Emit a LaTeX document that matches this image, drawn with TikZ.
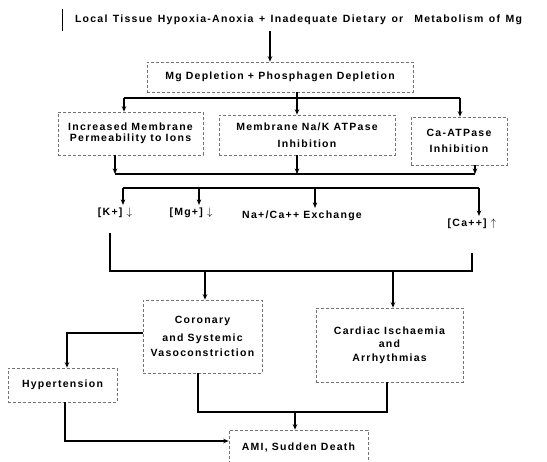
\documentclass[tikz,border=0pt]{standalone}
\usepackage{fontspec}
\setmainfont{Liberation Sans}[LetterSpace=12]
\usetikzlibrary{arrows.meta,calc}
\begin{document}
\begin{tikzpicture}[x=1pt,y=-1pt,
  every node/.style={font=\fontsize{10.5}{11.5}\selectfont\bfseries, inner sep=0pt},
  box/.style={draw=black!55, dash pattern=on 3pt off 2pt, line width=0.6pt, align=center},
  conn/.style={line width=1.6pt, line cap=butt, line join=miter},
  arr/.style={conn, -{Stealth[length=5.5pt,width=4.5pt]}},
  lbl/.style={align=center, inner ysep=3pt}]
\useasboundingbox (0,0) rectangle (547,462);
% nodes
\node[inner xsep=12pt, inner ysep=6pt] (top) at (298.5,20) {\makebox[447pt][s]{Local Tissue Hypoxia-Anoxia + Inadequate Dietary or \ Metabolism of Mg}};
\draw[line width=0.9pt] (top.north west) -- (top.south west);
\node[box, minimum width=266pt, minimum height=30pt] (mg) at (280,77) {Mg Depletion + Phosphagen Depletion};
\node[box, minimum width=145pt, minimum height=43pt] (inc) at (130.5,133.5) {Increased Membrane\\Permeability to Ions};
\node[box, minimum width=176pt, minimum height=40pt] (nak) at (307,135) {Membrane Na/K ATPase\\[5pt]Inhibition};
\node[box, minimum width=96pt, minimum height=48pt] (ca) at (459,141) {Ca-ATPase\\[4pt]Inhibition};
\node[lbl] (lk) at (115,213) {[K+] $\downarrow$};
\node[lbl] (lmg) at (191,213) {[Mg+] $\downarrow$};
\node[lbl] (lna) at (302,216) {Na+/Ca++ Exchange};
\node[lbl] (lca) at (472,224) {[Ca++] $\uparrow$};
\node[box, minimum width=119pt, minimum height=73pt] (cor) at (202.5,336.5) {Coronary\\[6pt]and Systemic\\[4pt]Vasoconstriction};
\node[box, minimum width=147pt, minimum height=74pt] (car) at (389.5,345) {Cardiac Ischaemia\\[2pt]and\\[2pt]Arrhythmias};
\node[box, minimum width=109pt, minimum height=34pt] (hyp) at (62.5,385) {Hypertension};
\node[box, minimum width=139pt, minimum height=36pt] (ami) at (298.5,448) {AMI, Sudden Death};
% top arrow
\coordinate (t1) at (270,20);
\draw[arr] (t1 |- top.south) -- (t1 |- mg.north);
% distribution to three boxes
\coordinate (jL) at (124,98);
\coordinate (jR) at (460,98);
\coordinate (jM) at (297,98);
\draw[conn] (jL) -- (jR);
\draw[arr] (jM |- mg.south) -- (jM |- nak.north);
\draw[arr] (jL) -- (jL |- inc.north);
\draw[arr] (jR) -- (jR |- ca.north);
% merge from three boxes
\coordinate (mL) at (115,174);
\coordinate (mR) at (475,174);
\coordinate (mM) at (297,174);
\draw[conn] (mL) -- (mR);
\draw[arr] (mL |- inc.south) -- (mL);
\draw[arr] (mM |- nak.south) -- (mM);
\draw[arr] (mR |- ca.south) -- (mR);
% distribution to ion labels
\coordinate (d1) at (123,188);
\coordinate (d2) at (199,188);
\coordinate (d3) at (315,188);
\coordinate (d4) at (479,188);
\draw[conn] (d1) -- (d4);
\draw[arr] (d1) -- (d1 |- lk.north);
\draw[arr] (d2) -- (d2 |- lmg.north);
\draw[arr] (d3) -- (d3 |- lna.north);
\draw[arr] (d4) -- (d4 |- lca.north);
% merge from ions
\coordinate (e1t) at (110,233);
\coordinate (e1) at (110,271);
\coordinate (e2) at (472,271);
\coordinate (e2t) at (472,253);
\draw[conn] (e1t) -- (e1) -- (e2) -- (e2t);
\coordinate (e3) at (205,271);
\coordinate (e4) at (393,271);
\draw[arr] (e3) -- (e3 |- cor.north);
\draw[arr] (e4) -- (e4 |- car.north);
% coronary to hypertension
\coordinate (h1) at (67,333);
\draw[arr] (cor.west |- h1) -- (h1) -- (h1 |- hyp.north);
% coronary + cardiac to AMI
\coordinate (g1) at (198,412);
\coordinate (g2) at (387,412);
\coordinate (g3) at (295,412);
\draw[conn] (g1 |- cor.south) -- (g1) -- (g2) -- (g2 |- car.south);
\draw[arr] (g3) -- (g3 |- ami.north);
% hypertension to AMI
\coordinate (k1) at (65,441);
\draw[arr] (k1 |- hyp.south) -- (k1) -- (k1 -| ami.west);
\end{tikzpicture}
\end{document}
